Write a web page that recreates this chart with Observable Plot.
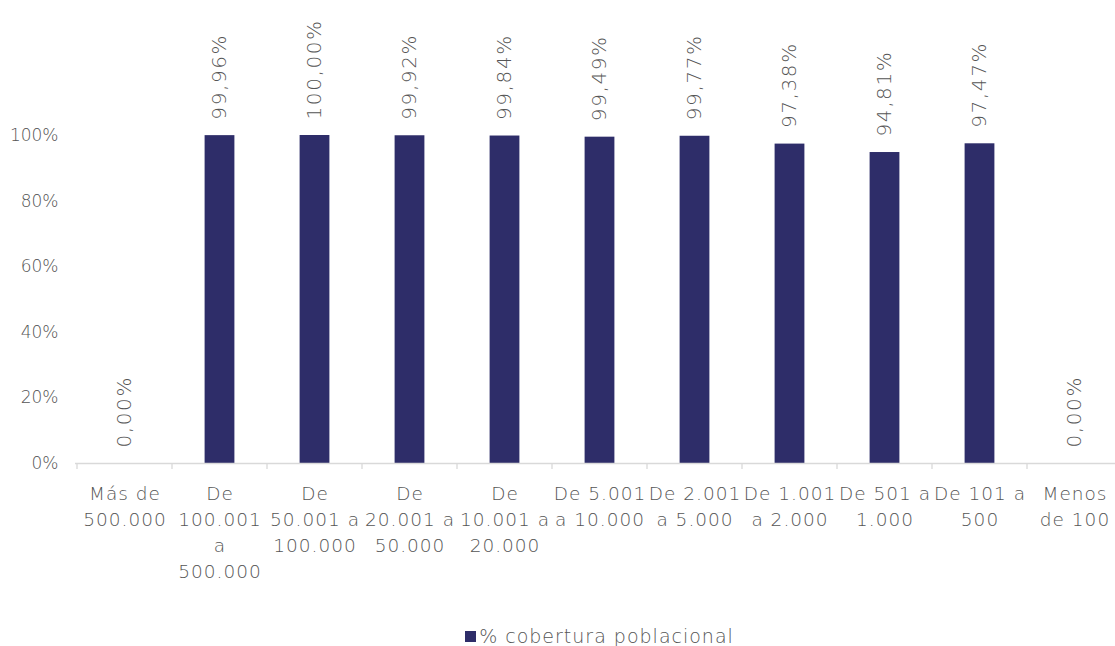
<!DOCTYPE html>
<html>
<head>
<meta charset="utf-8">
<script src="https://cdn.jsdelivr.net/npm/d3@7"></script>
<script src="https://cdn.jsdelivr.net/npm/@observablehq/plot@0.6"></script>
<style>
  html, body { margin: 0; padding: 0; background: #fff; overflow: hidden; }
  #chart { width: 1115px; }
  svg text { font-weight: 200; }
  g[aria-label="x-axis tick label"] { letter-spacing: 1px; }
  g[aria-label="text"] { letter-spacing: 1.6px; }
  #legend { margin-left: 75px; width: 1049px; height: 22px; display: flex; justify-content: center; align-items: center;
    font-family: "DejaVu Sans", sans-serif; font-weight: 200; font-size: 19px; letter-spacing: 1px; color: #555555; line-height: 22px; }
  #legend .sw { width: 11px; height: 11px; background: #2e2d69; margin-right: 3px; }
</style>
</head>
<body>
<div id="chart"></div>
<div id="legend"><span class="sw"></span><span>% cobertura poblacional</span></div>
<script>
const categories = [
  "Más de\n500.000",
  "De\n100.001\na\n500.000",
  "De\n50.001 a\n100.000",
  "De\n20.001 a\n50.000",
  "De\n10.001 a\n20.000",
  "De 5.001\na 10.000",
  "De 2.001\na 5.000",
  "De 1.001\na 2.000",
  "De 501 a\n1.000",
  "De 101 a\n500",
  "Menos\nde 100"
];
const coverage = [0, 0.9996, 1.0, 0.9992, 0.9984, 0.9949, 0.9977, 0.9738, 0.9481, 0.9747, 0];
const yTicks = [0, 0.2, 0.4, 0.6, 0.8, 1.0];
const seriesName = "% cobertura poblacional";

const data = categories.map((c, i) => ({category: c, value: coverage[i]}));
const fmt = v => (v * 100).toFixed(2).replace(".", ",") + "%";

const barColor = "#2e2d69";
const textColor = "#555555";
const axisColor = "#d9d9d9";

function boundaryTicks(index, scales, values, dims) {
  const x = scales.x;
  const bw = typeof x.bandwidth === "function" ? x.bandwidth() : x.bandwidth;
  const y0 = scales.y(0);
  const edges = categories.map(c => x(c)).concat([x(categories[categories.length - 1]) + bw]);
  const g = d3.create("svg:g").attr("stroke", axisColor).attr("stroke-width", 1.3);
  for (const e of edges) {
    g.append("line").attr("x1", e).attr("x2", e).attr("y1", y0).attr("y2", y0 + 6);
  }
  return g.node();
}

const chart = Plot.plot({
  width: 1115,
  height: 625,
  marginLeft: 75,
  marginRight: -9,
  marginTop: 135,
  marginBottom: 162,
  style: {fontFamily: "DejaVu Sans, sans-serif", color: textColor, background: "#fff"},
  x: {domain: categories, padding: 0},
  y: {domain: [0, 1]},
  marks: [
    Plot.barY(data, {x: "category", y: "value", fill: barColor, insetLeft: 32.6, insetRight: 32.6}),
    Plot.ruleY([0], {stroke: axisColor, strokeWidth: 1.3}),
    boundaryTicks,
    Plot.text(data, {x: "category", y: "value", text: d => fmt(d.value), rotate: -90, textAnchor: "start",
      lineAnchor: "middle", dy: -16, fontSize: 20, fill: textColor}),
    Plot.axisX({tickSize: 0, tickPadding: 18, fontSize: 18.5, lineHeight: 1.4, tickFormat: d => d, label: null, fill: textColor}),
    Plot.axisY({ticks: yTicks, tickSize: 0, tickPadding: 17, fontSize: 17, tickFormat: d => Math.round(d * 100) + "%", label: null, fill: textColor})
  ]
});
document.getElementById("chart").appendChild(chart);
</script>
</body>
</html>
